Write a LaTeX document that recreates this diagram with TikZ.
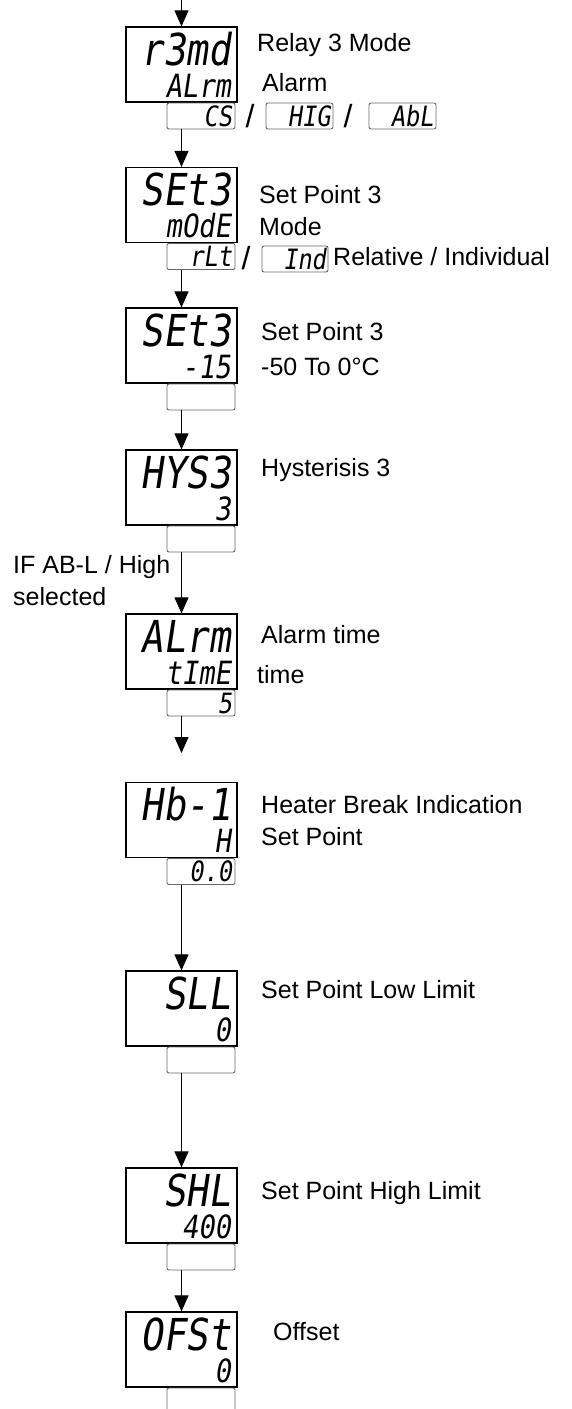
\documentclass[tikz,border=0pt]{standalone}
\usepackage{fontspec}
\setmainfont{Liberation Sans}
\newfontfamily\segfont[FakeSlant=0.15,FakeStretch=0.85]{DejaVu Sans Mono}
\usetikzlibrary{arrows.meta,positioning}
\definecolor{ink}{HTML}{000000}
\definecolor{rim}{HTML}{666666}
\tikzset{
  lcd/.style={draw=ink,line width=1.2pt,minimum width=111pt,minimum height=75pt,inner sep=0pt},
  segbig/.style={anchor=base east,inner sep=0pt,font=\segfont\fontsize{44}{44}\selectfont},
  segsml/.style={anchor=base east,inner sep=0pt,font=\segfont\fontsize{32}{32}\selectfont},
  opt/.style={draw=rim,line width=0.9pt,rounded corners=2pt,minimum width=68pt,minimum height=26pt,
    text width=62pt,align=right,inner sep=1pt,font=\segfont\fontsize{28}{28}\selectfont},
  lbl/.style={anchor=west,inner sep=0pt,align=left,font=\fontsize{25}{32}\selectfont},
  slash/.style={inner sep=0pt,font=\fontsize{32}{32}\selectfont},
  ar/.style={-{Triangle[length=16pt,width=14pt]},line width=1pt,draw=ink},
}
\begin{document}
\begin{tikzpicture}[x=1pt,y=-1pt]
  \useasboundingbox (0,0) rectangle (571,1409);

  \node[lcd] (rmd) at (181.5,64.5) {};
  \node[segbig] (rmda) at (231,65) {r3md};
  \node[segsml] (rmdb) at (231,97) {ALrm};
  \node[opt] (rmdv) at (201,116) {CS};
  \node[lbl] (rmdl) at (257,45) {Relay 3 Mode};
  \node[lbl] (rmdm) at (262,83) {Alarm};
  \node[slash] (sl1) at (250,116) {/};
  \node[opt,minimum width=67pt] (hig) at (299.5,116) {HIG};
  \node[slash] (sl2) at (348,116) {/};
  \node[opt,minimum width=67pt] (abl) at (402.5,116) {AbL};

  \node[lcd] (stm) at (181.5,205) {};
  \node[segbig] (stma) at (231,205.5) {SEt3};
  \node[segsml] (stmb) at (231,237.5) {mOdE};
  \node[opt] (stmv) at (201,256.5) {rLt};
  \node[lbl] (stml) at (259,210.5) {Set Point 3\\Mode};
  \node[slash] (sl3) at (246,258) {/};
  \node[opt,minimum width=66pt] (ind) at (295,259) {Ind};
  \node[lbl] (indl) at (333,257) {Relative / Individual};

  \node[lcd] (spt) at (181.5,345.5) {};
  \node[segbig] (spta) at (231,346) {SEt3};
  \node[segsml] (sptb) at (231,378) {-15};
  \node[opt] (sptv) at (201,397) {};
  \node[lbl] (sptl) at (261,332) {Set Point 3};
  \node[lbl] (sptm) at (261,367) {-50 To 0°C};

  \node[lcd] (hys) at (181.5,487.5) {};
  \node[segbig] (hysa) at (231,488) {HYS3};
  \node[segsml] (hysb) at (231,520) {3};
  \node[opt] (hysv) at (201,539) {};
  \node[lbl] (hysl) at (261,470) {Hysterisis 3};

  \node[lbl,anchor=north west] (cond) at (13,555) {IF AB-L / High\\selected};

  \node[lcd] (alt) at (181.5,651.5) {};
  \node[segbig] (alta) at (231,652) {ALrm};
  \node[segsml] (altb) at (231,684) {tImE};
  \node[opt] (altv) at (201,703) {5};
  \node[lbl] (altl) at (261,635) {Alarm time};
  \node[lbl] (altm) at (257,675) {time};
  \coordinate (altend) at (181.5,753);

  \node[lcd] (hbi) at (181.5,820) {};
  \node[segbig] (hbia) at (231,820.5) {Hb-1};
  \node[segsml] (hbib) at (231,852.5) {H};
  \node[opt] (hbiv) at (201,871.5) {0.0};
  \node[lbl] (hbil) at (261,821) {Heater Break Indication\\Set Point};

  \node[lcd] (sll) at (181.5,1008.5) {};
  \node[segbig] (slla) at (231,1009) {SLL};
  \node[segsml] (sllb) at (231,1041) {0};
  \node[opt] (sllv) at (201,1060) {};
  \node[lbl] (slll) at (261,990) {Set Point Low Limit};

  \node[lcd] (shl) at (181.5,1205.5) {};
  \node[segbig] (shla) at (231,1206) {SHL};
  \node[segsml] (shlb) at (231,1238) {400};
  \node[opt] (shlv) at (201,1257) {};
  \node[lbl] (shll) at (261,1193) {Set Point High Limit};

  \node[lcd] (ofs) at (181.5,1349.5) {};
  \node[segbig] (ofsa) at (231,1350) {OFSt};
  \node[segsml] (ofsb) at (231,1382) {0};
  \node[opt,minimum height=40pt] (ofsv) at (201,1408) {};
  \node[lbl] (ofsl) at (273,1332) {Offset};

  \coordinate (start) at (181.5,0);
  \draw[ar] (start) -- (rmd.north);
  \draw[ar] (rmd.south |- rmdv.south) -- (stm.north);
  \draw[ar] (stm.south |- stmv.south) -- (spt.north);
  \draw[ar] (spt.south |- sptv.south) -- (hys.north);
  \draw[ar] (hys.south |- hysv.south) -- (alt.north);
  \draw[ar] (alt.south |- altv.south) -- (altend);
  \draw[ar] (hbi.south |- hbiv.south) -- (sll.north);
  \draw[ar] (sll.south |- sllv.south) -- (shl.north);
  \draw[ar] (shl.south |- shlv.south) -- (ofs.north);
\end{tikzpicture}
\end{document}
